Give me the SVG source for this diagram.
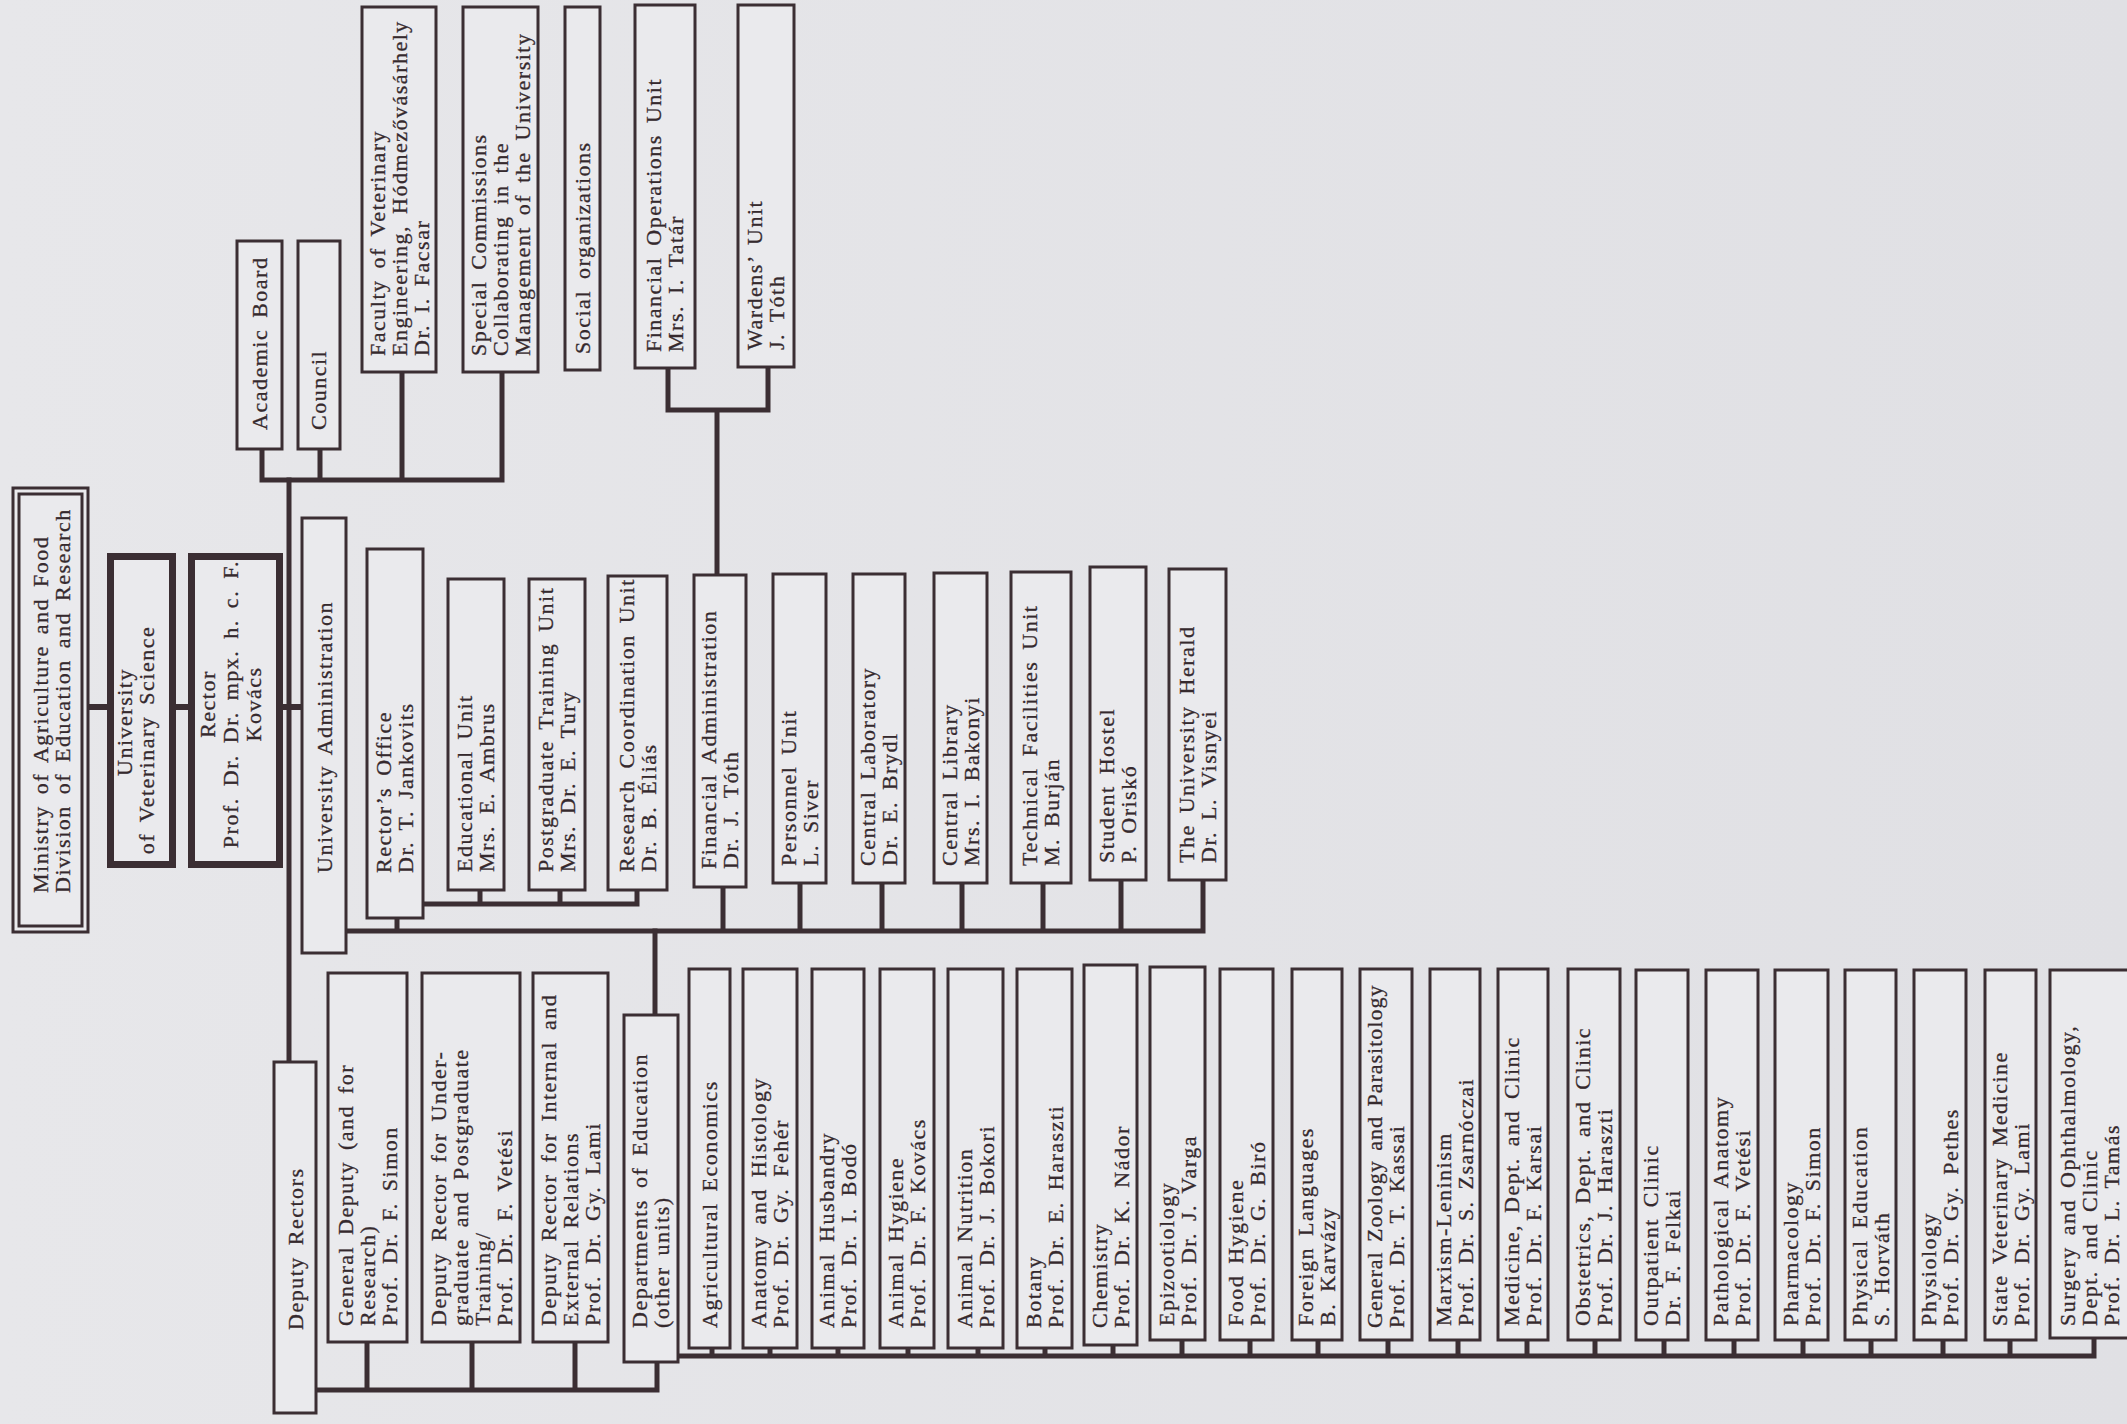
<svg xmlns="http://www.w3.org/2000/svg" width="2127" height="1424" viewBox="0 0 2127 1424">
<defs>
<linearGradient id="bg" x1="0" y1="0" x2="1" y2="0">
<stop offset="0" stop-color="#e7e7ea"/>
<stop offset="1" stop-color="#e0e0e4"/>
</linearGradient>
<style>
.b{fill:#eaeaed;stroke:#3b2e33;stroke-width:3}
.bt{fill:#eaeaed;stroke:#3b2e33;stroke-width:7}
.c{fill:none;stroke:#3b2e33;stroke-width:5;stroke-linejoin:miter;stroke-linecap:square}
.t{font-family:"Liberation Serif","DejaVu Serif",serif;font-size:22px;letter-spacing:1.5px;word-spacing:4px;fill:#35292d;stroke:#35292d;stroke-width:0.3}
.m{text-anchor:middle}
.n{letter-spacing:1px;word-spacing:3px}
</style>
</defs>
<rect x="0" y="0" width="2127" height="1424" fill="url(#bg)"/>

<g id="connectors">
<path class="c" d="M262,449 V480 M320,449 V480 M402,372 V480 M502,372 V480 M262,480 H502"/>
<path class="c" d="M289,480 V1062"/>
<path class="c" d="M668,368 V410 H768 V367 M717,410 V575"/>
<path class="c" style="stroke-width:6" d="M88,707 H107 M176,707 H188 M283,707 H302"/>
<path class="c" d="M480,890 V904 M560,890 V904 M637,890 V904 M423,904 H637"/>
<path class="c" d="M346,931 H1203 V880 M397,918 V931 M723,887 V931 M800,883 V931 M882,883 V931 M962,883 V931 M1043,883 V931 M1121,880 V931"/>
<path class="c" d="M655,931 V1015"/>
<path class="c" d="M316,1390 H657 V1362 M367,1342 V1390 M472,1342 V1390 M575,1342 V1390"/>
<path class="c" d="M678,1356 H2094 V1338 M712,1348 V1356 M770,1348 V1356 M838,1348 V1356 M908,1348 V1356 M978,1348 V1356 M1045,1348 V1356 M1113,1345 V1356 M1182,1340 V1356 M1250,1340 V1356 M1318,1340 V1356 M1388,1340 V1356 M1458,1340 V1356 M1527,1340 V1356 M1595,1340 V1356 M1664,1340 V1356 M1734,1340 V1356 M1803,1340 V1356 M1871,1340 V1356 M1943,1340 V1356 M2010,1340 V1356"/>
</g>

<g id="ministry">
<rect class="b" x="13" y="488" width="75" height="444"/>
<rect class="b" x="19" y="494" width="63" height="432"/>
<text class="t" transform="translate(48,893) rotate(-90)"><tspan x="0" y="0">Ministry of Agriculture and Food</tspan><tspan x="0" dy="22">Division of Education and Research</tspan></text>
</g>
<g id="university">
<rect class="bt" x="110.5" y="556.5" width="62" height="308"/>
<text class="t m" transform="translate(132,722) rotate(-90)"><tspan x="0" y="0">University</tspan><tspan x="-18" dy="22">of Veterinary Science</tspan></text>
</g>
<g id="rector">
<rect class="bt" x="191.5" y="556.5" width="88" height="308"/>
<text class="t m" transform="translate(215,704) rotate(-90)"><tspan x="0" y="0">Rector</tspan><tspan x="0" dy="23">Prof. Dr. Dr. mpx. h. c. F.</tspan><tspan x="0" dy="23">Kovács</tspan></text>
</g>
<g id="university-administration">
<rect class="b" x="302" y="518" width="44" height="435"/>
<text class="t" transform="translate(332,873) rotate(-90)">University Administration</text>
</g>

<g id="academic-board">
<rect class="b" x="237" y="241" width="45" height="208"/>
<text class="t" transform="translate(267,430) rotate(-90)">Academic Board</text>
</g>
<g id="council">
<rect class="b" x="298" y="241" width="42" height="208"/>
<text class="t" transform="translate(326,430) rotate(-90)">Council</text>
</g>
<g id="faculty">
<rect class="b" x="362" y="7" width="74" height="365"/>
<text class="t" transform="translate(385,356) rotate(-90)"><tspan x="0" y="0">Faculty of Veterinary</tspan><tspan x="0" dy="22">Engineering, Hódmezővásárhely</tspan><tspan x="0" dy="22">Dr. I. Facsar</tspan></text>
</g>
<g id="special-commissions">
<rect class="b" x="463" y="7" width="75" height="365"/>
<text class="t" transform="translate(486,356) rotate(-90)"><tspan x="0" y="0">Special Commissions</tspan><tspan x="0" dy="22">Collaborating in the</tspan><tspan x="0" dy="22">Management of the University</tspan></text>
</g>
<g id="social-organizations">
<rect class="b" x="565" y="7" width="35" height="363"/>
<text class="t" transform="translate(590,354) rotate(-90)">Social organizations</text>
</g>
<g id="financial-operations">
<rect class="b" x="635" y="5" width="60" height="363"/>
<text class="t" transform="translate(661,352) rotate(-90)"><tspan x="0" y="0">Financial Operations Unit</tspan><tspan x="0" dy="22">Mrs. I. Tatár</tspan></text>
</g>
<g id="wardens-unit">
<rect class="b" x="738" y="5" width="56" height="362"/>
<text class="t" transform="translate(762,350) rotate(-90)"><tspan x="0" y="0">Wardens’ Unit</tspan><tspan x="0" dy="22">J. Tóth</tspan></text>
</g>

<g id="rectors-office">
<rect class="b" x="367" y="549" width="56" height="369"/>
<text class="t" transform="translate(391,873) rotate(-90)"><tspan x="0" y="0">Rector’s Office</tspan><tspan x="0" dy="22">Dr. T. Jankovits</tspan></text>
</g>
<g id="educational-unit">
<rect class="b" x="448" y="579" width="56" height="311"/>
<text class="t" transform="translate(472,872) rotate(-90)"><tspan x="0" y="0">Educational Unit</tspan><tspan x="0" dy="22">Mrs. E. Ambrus</tspan></text>
</g>
<g id="postgraduate-training">
<rect class="b" x="529" y="579" width="56" height="311"/>
<text class="t" transform="translate(553,872) rotate(-90)"><tspan x="0" y="0">Postgraduate Training Unit</tspan><tspan x="0" dy="22">Mrs. Dr. E. Tury</tspan></text>
</g>
<g id="research-coordination">
<rect class="b" x="608" y="576" width="59" height="314"/>
<text class="t" transform="translate(634,872) rotate(-90)"><tspan x="0" y="0">Research Coordination Unit</tspan><tspan x="0" dy="22">Dr. B. Éliás</tspan></text>
</g>
<g id="financial-administration">
<rect class="b" x="694" y="575" width="52" height="312"/>
<text class="t" transform="translate(716,869) rotate(-90)"><tspan x="0" y="0">Financial Administration</tspan><tspan x="0" dy="22">Dr. J. Tóth</tspan></text>
</g>
<g id="personnel-unit">
<rect class="b" x="773" y="574" width="53" height="309"/>
<text class="t" transform="translate(796,866) rotate(-90)"><tspan x="0" y="0">Personnel Unit</tspan><tspan x="0" dy="22">L. Siver</tspan></text>
</g>
<g id="central-laboratory">
<rect class="b" x="853" y="574" width="52" height="309"/>
<text class="t" transform="translate(875,866) rotate(-90)"><tspan x="0" y="0">Central Laboratory</tspan><tspan x="0" dy="22">Dr. E. Brydl</tspan></text>
</g>
<g id="central-library">
<rect class="b" x="934" y="573" width="53" height="310"/>
<text class="t" transform="translate(957,866) rotate(-90)"><tspan x="0" y="0">Central Library</tspan><tspan x="0" dy="22">Mrs. I. Bakonyi</tspan></text>
</g>
<g id="technical-facilities">
<rect class="b" x="1011" y="572" width="60" height="311"/>
<text class="t" transform="translate(1037,866) rotate(-90)"><tspan x="0" y="0">Technical Facilities Unit</tspan><tspan x="0" dy="22">M. Burján</tspan></text>
</g>
<g id="student-hostel">
<rect class="b" x="1090" y="567" width="56" height="313"/>
<text class="t" transform="translate(1114,863) rotate(-90)"><tspan x="0" y="0">Student Hostel</tspan><tspan x="0" dy="22">P. Oriskó</tspan></text>
</g>
<g id="university-herald">
<rect class="b" x="1169" y="569" width="57" height="311"/>
<text class="t" transform="translate(1194,863) rotate(-90)"><tspan x="0" y="0">The University Herald</tspan><tspan x="0" dy="22">Dr. L. Visnyei</tspan></text>
</g>

<g id="deputy-rectors">
<rect class="b" x="274" y="1062" width="42" height="351"/>
<text class="t" transform="translate(303,1330) rotate(-90)">Deputy Rectors</text>
</g>
<g id="general-deputy">
<rect class="b" x="328" y="973" width="79" height="369"/>
<text class="t" transform="translate(353,1326) rotate(-90)"><tspan x="0" y="0">General Deputy (and for</tspan><tspan x="0" dy="22">Research)</tspan><tspan x="0" dy="22">Prof. Dr. F. Simon</tspan></text>
</g>
<g id="deputy-undergraduate">
<rect class="b" x="422" y="973" width="98" height="369"/>
<text class="t" transform="translate(446,1326) rotate(-90)"><tspan x="0" y="0">Deputy Rector for Under-</tspan><tspan x="0" dy="22">graduate and Postgraduate</tspan><tspan x="0" dy="22">Training/</tspan><tspan x="0" dy="22">Prof. Dr. F. Vetési</tspan></text>
</g>
<g id="deputy-relations">
<rect class="b" x="533" y="973" width="75" height="369"/>
<text class="t" transform="translate(556,1326) rotate(-90)"><tspan x="0" y="0">Deputy Rector for Internal and</tspan><tspan x="0" dy="22">External Relations</tspan><tspan x="0" dy="22">Prof. Dr. Gy. Lami</tspan></text>
</g>
<g id="departments-of-education">
<rect class="b" x="624" y="1015" width="54" height="347"/>
<text class="t" transform="translate(647,1328) rotate(-90)"><tspan x="0" y="0">Departments of Education</tspan><tspan x="0" dy="22">(other units)</tspan></text>
</g>

<g id="agricultural-economics">
<rect class="b" x="689" y="969" width="41" height="379"/>
<text class="t" transform="translate(717,1328) rotate(-90)">Agricultural Economics</text>
</g>
<g id="anatomy">
<rect class="b" x="743" y="969" width="54" height="379"/>
<text class="t" transform="translate(766,1328) rotate(-90)"><tspan x="0" y="0">Anatomy and Histology</tspan><tspan x="0" dy="22">Prof. Dr. Gy. Fehér</tspan></text>
</g>
<g id="animal-husbandry">
<rect class="b" x="812" y="969" width="52" height="379"/>
<text class="t" transform="translate(834,1328) rotate(-90)"><tspan x="0" y="0">Animal Husbandry</tspan><tspan x="0" dy="22">Prof. Dr. I. Bodó</tspan></text>
</g>
<g id="animal-hygiene">
<rect class="b" x="880" y="969" width="54" height="379"/>
<text class="t" transform="translate(903,1328) rotate(-90)"><tspan x="0" y="0">Animal Hygiene</tspan><tspan x="0" dy="22">Prof. Dr. F. Kovács</tspan></text>
</g>
<g id="animal-nutrition">
<rect class="b" x="948" y="969" width="55" height="379"/>
<text class="t" transform="translate(972,1328) rotate(-90)"><tspan x="0" y="0">Animal Nutrition</tspan><tspan x="0" dy="22">Prof. Dr. J. Bokori</tspan></text>
</g>
<g id="botany">
<rect class="b" x="1017" y="969" width="55" height="379"/>
<text class="t" transform="translate(1041,1328) rotate(-90)"><tspan x="0" y="0">Botany</tspan><tspan x="0" dy="22">Prof. Dr. E. Haraszti</tspan></text>
</g>
<g id="chemistry">
<rect class="b" x="1084" y="965" width="53" height="380"/>
<text class="t" transform="translate(1107,1328) rotate(-90)"><tspan x="0" y="0">Chemistry</tspan><tspan x="0" dy="22">Prof. Dr. K. Nádor</tspan></text>
</g>
<g id="epizootiology">
<rect class="b" x="1150" y="967" width="55" height="373"/>
<text class="t" transform="translate(1174,1326) rotate(-90)"><tspan x="0" y="0">Epizootiology</tspan><tspan x="0" dy="22">Prof. Dr. J. Varga</tspan></text>
</g>
<g id="food-hygiene">
<rect class="b" x="1220" y="969" width="53" height="371"/>
<text class="t" transform="translate(1243,1326) rotate(-90)"><tspan x="0" y="0">Food Hygiene</tspan><tspan x="0" dy="22">Prof. Dr. G. Biró</tspan></text>
</g>
<g id="foreign-languages">
<rect class="b" x="1292" y="969" width="50" height="371"/>
<text class="t" transform="translate(1313,1326) rotate(-90)"><tspan x="0" y="0">Foreign Languages</tspan><tspan x="0" dy="22">B. Karvázy</tspan></text>
</g>
<g id="general-zoology">
<rect class="b" x="1360" y="969" width="52" height="371"/>
<text class="t" transform="translate(1382,1328) rotate(-90)"><tspan class="n" x="0" y="0">General Zoology and Parasitology</tspan><tspan x="0" dy="22">Prof. Dr. T. Kassai</tspan></text>
</g>
<g id="marxism-leninism">
<rect class="b" x="1430" y="969" width="50" height="371"/>
<text class="t" transform="translate(1451,1326) rotate(-90)"><tspan x="0" y="0">Marxism-Leninism</tspan><tspan x="0" dy="22">Prof. Dr. S. Zsarnóczai</tspan></text>
</g>
<g id="medicine">
<rect class="b" x="1498" y="969" width="50" height="371"/>
<text class="t" transform="translate(1519,1326) rotate(-90)"><tspan x="0" y="0">Medicine, Dept. and Clinic</tspan><tspan x="0" dy="22">Prof. Dr. F. Karsai</tspan></text>
</g>
<g id="obstetrics">
<rect class="b" x="1568" y="969" width="52" height="371"/>
<text class="t" transform="translate(1590,1326) rotate(-90)"><tspan x="0" y="0">Obstetrics, Dept. and Clinic</tspan><tspan x="0" dy="22">Prof. Dr. J. Haraszti</tspan></text>
</g>
<g id="outpatient-clinic">
<rect class="b" x="1636" y="970" width="52" height="370"/>
<text class="t" transform="translate(1658,1326) rotate(-90)"><tspan x="0" y="0">Outpatient Clinic</tspan><tspan x="0" dy="22">Dr. F. Felkai</tspan></text>
</g>
<g id="pathological-anatomy">
<rect class="b" x="1706" y="970" width="52" height="370"/>
<text class="t" transform="translate(1728,1326) rotate(-90)"><tspan x="0" y="0">Pathological Anatomy</tspan><tspan x="0" dy="22">Prof. Dr. F. Vetési</tspan></text>
</g>
<g id="pharmacology">
<rect class="b" x="1775" y="970" width="53" height="370"/>
<text class="t" transform="translate(1798,1326) rotate(-90)"><tspan x="0" y="0">Pharmacology</tspan><tspan x="0" dy="22">Prof. Dr. F. Simon</tspan></text>
</g>
<g id="physical-education">
<rect class="b" x="1845" y="970" width="51" height="370"/>
<text class="t" transform="translate(1867,1326) rotate(-90)"><tspan x="0" y="0">Physical Education</tspan><tspan x="0" dy="22">S. Horváth</tspan></text>
</g>
<g id="physiology">
<rect class="b" x="1914" y="970" width="52" height="370"/>
<text class="t" transform="translate(1936,1326) rotate(-90)"><tspan x="0" y="0">Physiology</tspan><tspan x="0" dy="22">Prof. Dr. Gy. Pethes</tspan></text>
</g>
<g id="state-veterinary-medicine">
<rect class="b" x="1985" y="970" width="51" height="370"/>
<text class="t" transform="translate(2007,1326) rotate(-90)"><tspan x="0" y="0">State Veterinary Medicine</tspan><tspan x="0" dy="22">Prof. Dr. Gy. Lami</tspan></text>
</g>
<g id="surgery">
<rect class="b" x="2050" y="970" width="95" height="368"/>
<text class="t" transform="translate(2075,1326) rotate(-90)"><tspan x="0" y="0">Surgery and Ophthalmology,</tspan><tspan x="0" dy="22">Dept. and Clinic</tspan><tspan x="0" dy="22">Prof. Dr. L. Tamás</tspan></text>
</g>
</svg>
